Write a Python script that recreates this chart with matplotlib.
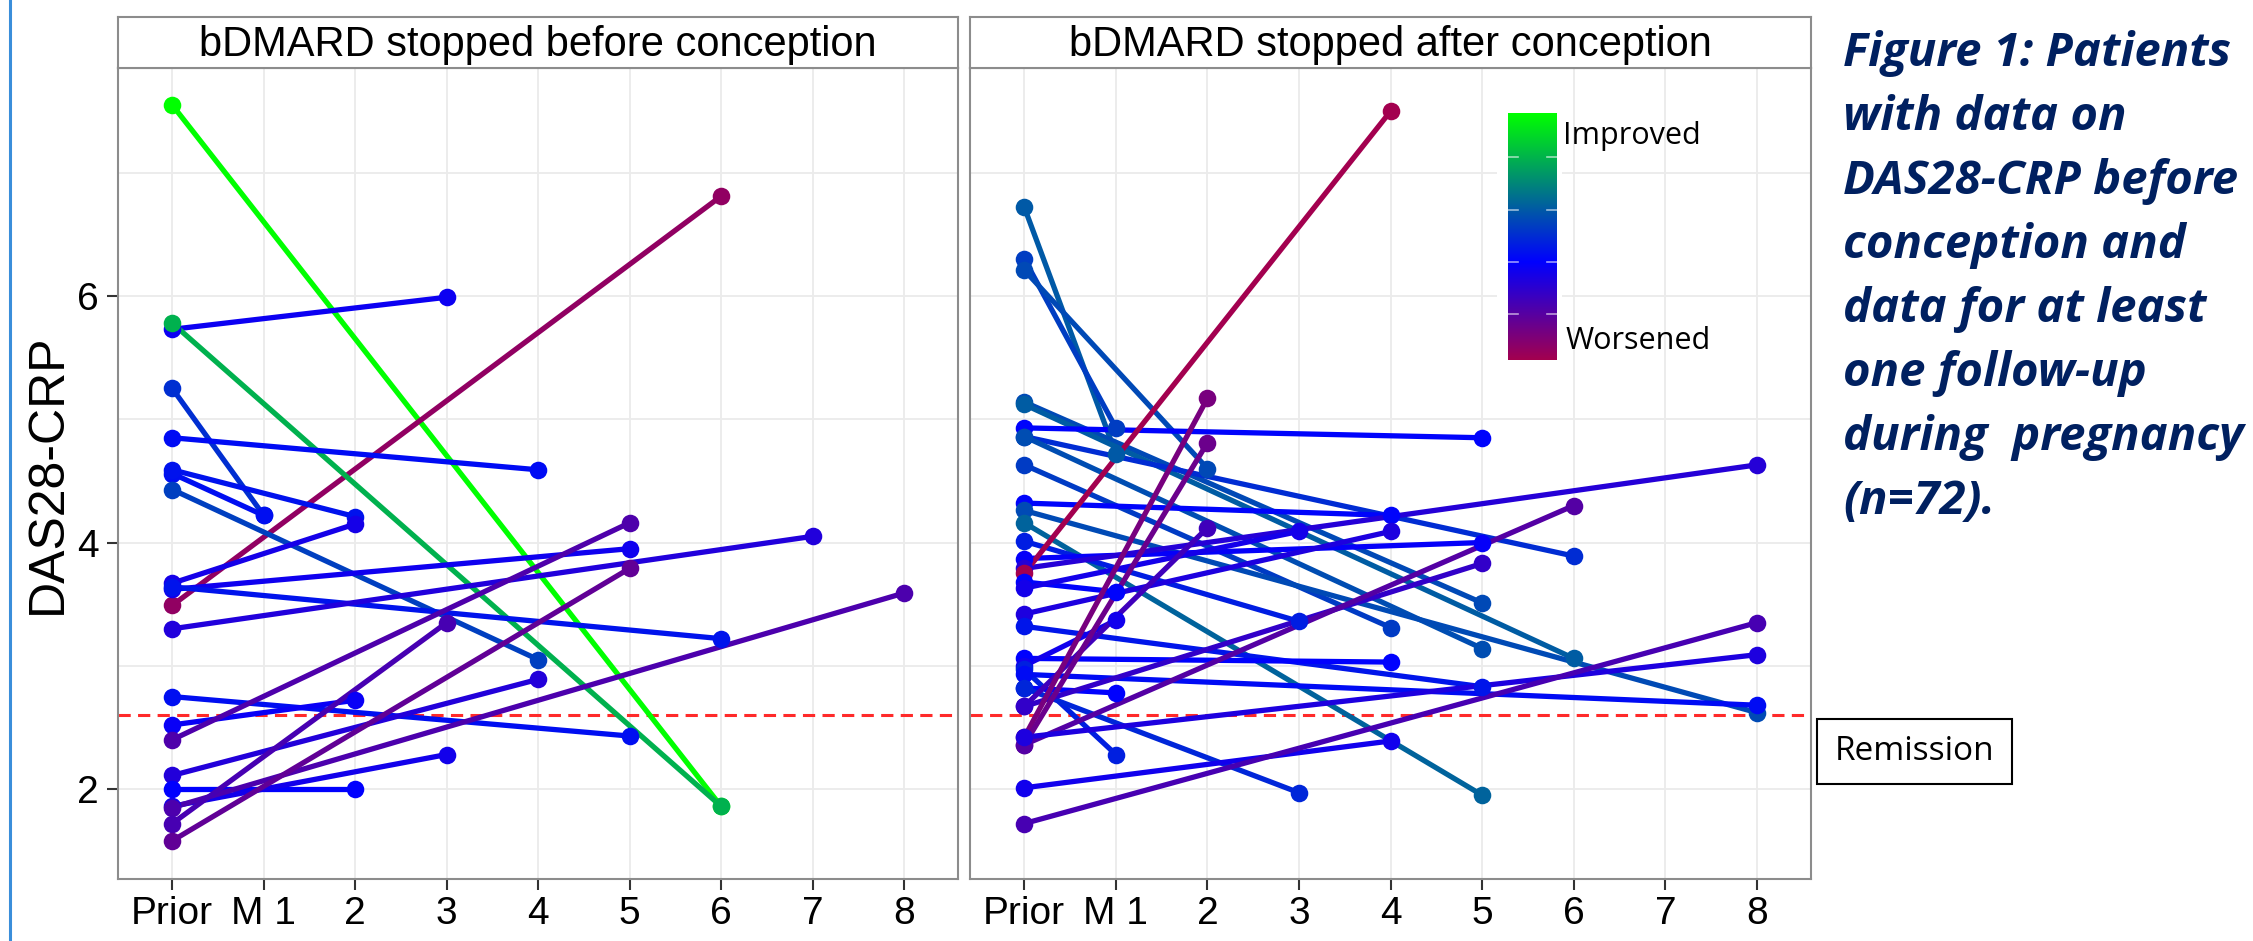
import numpy as np
import matplotlib
matplotlib.use("Agg")
import matplotlib.pyplot as plt
from matplotlib.colors import LinearSegmentedColormap, Normalize
from matplotlib.patches import Rectangle
from matplotlib.lines import Line2D

# DAS28-CRP before conception (x=0) and at one follow-up month
left_start = [7.55, 3.49, 5.73, 5.78, 5.25, 4.85, 4.56, 4.59, 4.43, 3.67, 3.62,
              3.64, 3.30, 2.75, 2.52, 2.40, 2.11, 2.00, 1.86, 1.85, 1.72, 1.58]
left_month = [6, 6, 3, 6, 1, 4, 1, 2, 4, 2, 5, 6, 7, 5, 2, 5, 4, 2, 3, 8, 3, 5]
left_end = [1.86, 6.81, 5.99, 1.86, 4.22, 4.59, 4.22, 4.21, 3.05, 4.15, 3.95,
            3.22, 4.05, 2.43, 2.72, 4.16, 2.89, 2.00, 2.28, 3.59, 3.35, 3.79]

right_start = [6.72, 6.30, 6.21, 5.14, 5.12, 4.93, 4.86, 4.86, 4.63, 4.32, 4.26, 4.16,
               4.01, 3.87, 3.79, 3.75, 3.68, 3.63, 3.42, 3.32, 3.06, 3.00, 2.97, 2.93,
               2.82, 2.82, 2.67, 2.67, 2.42, 2.36, 2.36, 2.42, 2.01, 1.72]
right_month = [1, 1, 2, 5, 6, 5, 6, 5, 4, 4, 8, 5, 3, 5, 8, 4, 1, 3, 4, 5, 4, 1, 1, 8,
               1, 3, 2, 5, 2, 2, 6, 8, 4, 8]
right_end = [4.72, 4.93, 4.60, 3.51, 3.06, 4.85, 3.89, 3.14, 3.31, 4.22, 2.62, 1.95,
             3.36, 4.00, 4.63, 7.50, 3.60, 4.09, 4.09, 2.83, 3.03, 3.37, 2.28, 2.68,
             2.78, 1.97, 4.12, 3.83, 5.17, 4.81, 4.30, 3.09, 2.39, 3.35]

month_ticks = list(range(9))
month_labels = ["Prior", "M 1", "2", "3", "4", "5", "6", "7", "8"]
panel_titles = ["bDMARD stopped before conception", "bDMARD stopped after conception"]
remission = 2.6
caption = ["Figure 1: Patients", "with data on", "DAS28-CRP before", "conception and",
           "data for at least", "one follow-up", "during  pregnancy", "(n=72)."]

W, H = 2253, 941
def fx(px):
    return px / W
def fy(py):
    return 1 - py / H

plt.rcParams["font.family"] = ["Liberation Sans", "DejaVu Sans"]
fig = plt.figure(figsize=(W / 100, H / 100), dpi=100)

# colour = improvement (before - after)
change = np.concatenate([np.array(left_start) - np.array(left_end),
                         np.array(right_start) - np.array(right_end)])
vmin, vmax = change.min(), change.max()
mid = (0 - vmin) / (vmax - vmin)
cmap = LinearSegmentedColormap.from_list(
    "das", [(0, "#A3004F"), (mid, "#0000FF"), (1, "#00FF00")])
norm = Normalize(vmin, vmax)

def panel(x0, x1, title, start, month, end, first):
    ax = fig.add_axes([fx(x0), fy(879), fx(x1 - x0), (879 - 68) / H])
    ax.set_xlim(-0.593, 8.59)
    ax.set_ylim(1.27, 7.85)
    ax.set_xticks(month_ticks)
    ax.set_xticklabels(month_labels, fontsize=28)
    ax.set_yticks([2, 4, 6])
    ax.set_yticks([3, 5, 7], minor=True)
    ax.set_axisbelow(True)
    ax.grid(which="both", color="#EBEBEB", lw=1.3)
    ax.tick_params(which="major", length=8, width=1.5, color="#333333", pad=4, labelsize=28)
    ax.tick_params(which="minor", length=0)
    if first:
        ax.tick_params(axis="y", pad=6)
    else:
        ax.tick_params(axis="y", length=0, labelleft=False)
    for sp in ax.spines.values():
        sp.set_color("#8C8C8C")
        sp.set_linewidth(1.5)
    ax.axhline(remission, color="#FF2A2A", ls=(0, (4, 2.4)), lw=2.2, zorder=2.5)
    for s, m, e in zip(start, month, end):
        ax.plot([0, m], [s, e], color=cmap(norm(s - e)), lw=3.8, zorder=3,
                solid_capstyle="round")
    for s, m, e in zip(start, month, end):
        ax.scatter([0, m], [s, e], s=160, color=cmap(norm(s - e)), lw=0, zorder=4)

    # facet strip
    st = fig.add_axes([fx(x0), fy(68), fx(x1 - x0), (68 - 17) / H])
    st.set_xticks([])
    st.set_yticks([])
    for sp in st.spines.values():
        sp.set_color("#8C8C8C")
        sp.set_linewidth(1.5)
    st.text(0.5, 0.45, title, ha="center", va="center", fontsize=30,
            transform=st.transAxes)
    return ax

ax1 = panel(118, 958, panel_titles[0], left_start, left_month, left_end, True)
ax2 = panel(970, 1811, panel_titles[1], right_start, right_month, right_end, False)

fig.text(fx(48), fy(474), "DAS28-CRP", rotation=90, ha="center", va="center", fontsize=36)

# colour legend inside right panel
ax2.add_patch(Rectangle((fx(1497), fy(373)), fx(65), (373 - 87) / H,
                        transform=fig.transFigure, facecolor="white",
                        edgecolor="none", zorder=1))
cax = fig.add_axes([fx(1508), fy(360), fx(49), (360 - 113) / H])
grad = np.linspace(vmin, vmax, 256).reshape(-1, 1)
cax.imshow(grad, aspect="auto", cmap=cmap, norm=norm, origin="lower",
           extent=[0, 1, vmin, vmax])
for t in [-2, 0, 2, 4]:
    cax.plot([0, 0.2], [t, t], color="white", lw=1.2, alpha=0.6)
    cax.plot([0.8, 1], [t, t], color="white", lw=1.2, alpha=0.6)
cax.set_xlim(0, 1)
cax.set_ylim(vmin, vmax)
cax.axis("off")
fig.text(fx(1563), fy(136), "Improved", ha="left", va="center", fontsize=22,
         family=["Open Sans", "DejaVu Sans"])
fig.text(fx(1566), fy(341), "Worsened", ha="left", va="center", fontsize=22,
         family=["Open Sans", "DejaVu Sans"])

# remission label box
fig.patches.append(Rectangle((fx(1817), fy(784)), fx(195), (784 - 719) / H,
                             transform=fig.transFigure, facecolor="white",
                             edgecolor="black", lw=1.5))
fig.text(fx(1915), fy(752), "Remission", ha="center", va="center", fontsize=24,
         family=["Open Sans", "DejaVu Sans"])

# caption
for i, line in enumerate(caption):
    fig.text(fx(1843), fy(66 + 64 * i), line, ha="left", va="baseline", fontsize=34,
             fontweight="bold", fontstyle="italic", color="#002060",
             family=["Open Sans", "DejaVu Sans"])

# poster frame edge
fig.add_artist(Line2D([fx(9.6), fx(9.6)], [0, 1], color="#3A8EDA", lw=2.2))

fig.savefig("out.png", dpi=100, facecolor="white")
